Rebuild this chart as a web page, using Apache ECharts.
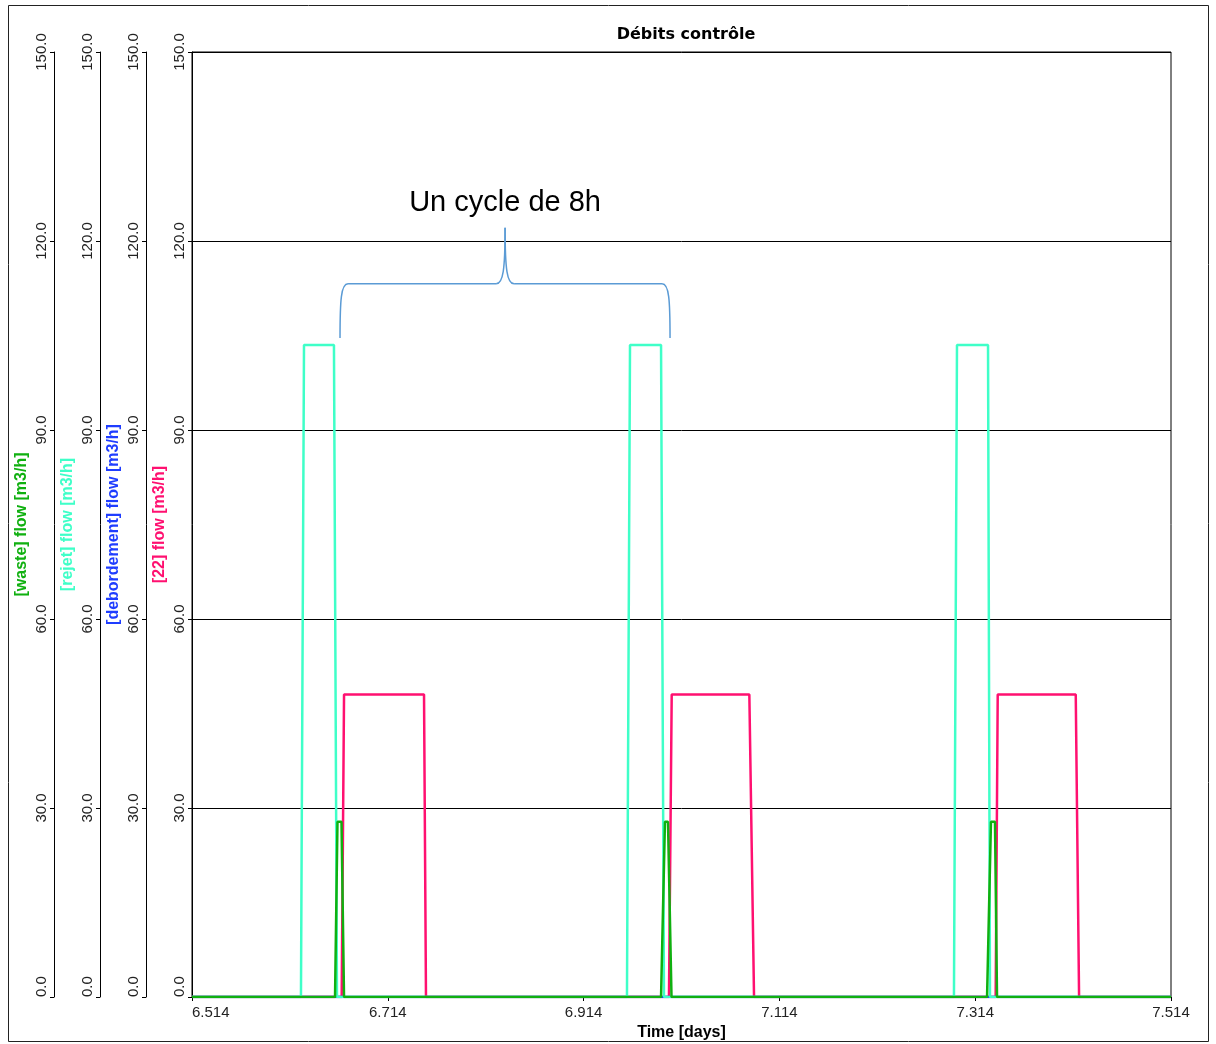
<!DOCTYPE html>
<html lang="fr">
<head>
  <meta charset="UTF-8">
  <title>Débits contrôle</title>
  <style>
    * { padding: 0px; margin: 0px; }
    html, body { width: 100%; height: 100%; background: #fff; }
    #chart { width: 1216px; height: 1044px; }
  </style>
  <script src="https://cdn.jsdelivr.net/npm/echarts@6/dist/echarts.min.js"></script>
</head>
<body>
  <div id="chart"></div>
  <script>
    // x ticks (days)
    var xTicks = [6.514, 6.714, 6.914, 7.114, 7.314, 7.514];

    // [waste] flow
    var wasteTime = [6.514, 6.6601, 6.6626, 6.6667, 6.6693, 6.9931, 6.9971, 7.0002, 7.0038, 7.3261, 7.3301, 7.3342, 7.3363, 7.514];
    var wasteFlow = [0, 0, 27.8, 27.8, 0, 0, 27.8, 27.8, 0, 0, 27.8, 27.8, 0, 0];

    // [rejet] flow
    var rejetTime = [6.514, 6.6253, 6.6284, 6.6590, 6.6621, 6.9583, 6.9614, 6.9931, 6.9961, 7.2923, 7.2954, 7.3271, 7.3291, 7.514];
    var rejetFlow = [0, 0, 103.5, 103.5, 0, 0, 103.5, 103.5, 0, 0, 103.5, 103.5, 0, 0];

    // [debordement] flow
    var debordTime = [6.514, 7.514];
    var debordFlow = [0, 0];

    // [22] flow
    var flow22Time = [6.514, 6.6669, 6.6693, 6.7510, 6.7530, 7.0012, 7.0040, 7.0833, 7.0881, 7.3349, 7.3370, 7.4167, 7.4201, 7.514];
    var flow22 = [0, 0, 48, 48, 0, 0, 48, 48, 0, 0, 48, 48, 0, 0];

    // annotation (data coords)
    var braceX = [6.6652, 6.8338, 7.0023];
    var braceY = [104.6, 113.2, 122.1];
    var noteText = 'Un cycle de 8h';
    var noteY = 126.1;

    function pairs(xs, ys) {
      return xs.map(function (x, i) { return [x, ys[i]]; });
    }

    var labelFont = 'Liberation Sans, Arial, sans-serif';

    function makeYAxis(name, color, offset, main) {
      return {
        type: 'value',
        position: 'left',
        offset: offset,
        min: 0,
        max: 150,
        interval: 30,
        name: name,
        nameLocation: 'middle',
        nameRotate: 90,
        nameGap: 24,
        nameMoveOverlap: false,
        nameTextStyle: { color: color, fontWeight: 'bold', fontSize: 16, fontFamily: labelFont },
        axisLine: { show: true, lineStyle: { color: '#000', width: 1 } },
        axisTick: { show: true, length: 4, lineStyle: { color: '#000' } },
        axisLabel: {
          rotate: 90, margin: 5, color: '#222', fontSize: 15, fontFamily: labelFont,
          alignMinLabel: 'left',
          formatter: function (v) { return v.toFixed(1); }
        },
        splitLine: { show: main, lineStyle: { color: '#000', width: 1 } }
      };
    }

    function makeSeries(name, color, axis, data) {
      return {
        name: name, type: 'line', yAxisIndex: axis, showSymbol: false,
        lineStyle: { color: color, width: 2.5 }, itemStyle: { color: color },
        data: data
      };
    }

    var chart = echarts.init(document.getElementById('chart'));
    var option = {
      animation: false,
      backgroundColor: '#fff',
      title: {
        text: 'Débits contrôle',
        left: 681, top: 22, textAlign: 'center',
        textStyle: { fontFamily: 'DejaVu Sans, sans-serif', fontWeight: 'bold', fontSize: 16, color: '#000' }
      },
      grid: {
        left: 192, right: 45, top: 52, bottom: 47,
        outerBoundsMode: 'none', containLabel: false,
        show: true, borderColor: '#000', borderWidth: 1
      },
      xAxis: {
        type: 'value', min: 6.514, max: 7.514,
        name: 'Time [days]', nameLocation: 'middle', nameGap: 28, nameMoveOverlap: false,
        nameTextStyle: { color: '#000', fontWeight: 'bold', fontSize: 16, fontFamily: labelFont },
        axisLine: { lineStyle: { color: '#000' } },
        axisTick: { show: true, length: 4, customValues: xTicks, lineStyle: { color: '#000' } },
        axisLabel: {
          customValues: xTicks, margin: 8, color: '#222', fontSize: 15, fontFamily: labelFont,
          alignMinLabel: 'left',
          formatter: function (v) { return v.toFixed(3); }
        },
        splitLine: { show: false }
      },
      yAxis: [
        makeYAxis('[22] flow [m3/h]', '#ff1070', 0, true),
        makeYAxis('[debordement] flow [m3/h]', '#1f3dff', 46, false),
        makeYAxis('[rejet] flow [m3/h]', '#3fffc8', 92, false),
        makeYAxis('[waste] flow [m3/h]', '#10b010', 138, false)
      ],
      series: [
        makeSeries('[22] flow', '#ff1070', 0, pairs(flow22Time, flow22)),
        makeSeries('[debordement] flow', '#1f3dff', 1, pairs(debordTime, debordFlow)),
        makeSeries('[rejet] flow', '#3fffc8', 2, pairs(rejetTime, rejetFlow)),
        makeSeries('[waste] flow', '#10b010', 3, pairs(wasteTime, wasteFlow))
      ]
    };
    chart.setOption(option);

    // brace + note placed from data coordinates
    function px(x, y) { return chart.convertToPixel({ xAxisIndex: 0, yAxisIndex: 0 }, [x, y]); }
    var L = px(braceX[0], braceY[0]), Lh = px(braceX[0], braceY[1]);
    var M = px(braceX[1], braceY[1]), T = px(braceX[1], braceY[2]);
    var R = px(braceX[2], braceY[0]);
    var N = px(braceX[1], noteY);
    var braceStyle = { stroke: '#5b9bd5', lineWidth: 1.5, fill: null };
    var hy = Lh[1];
    chart.setOption({
      graphic: [
        { type: 'rect', silent: true, shape: { x: 8.5, y: 5.5, width: 1200, height: 1036 },
          style: { fill: null, stroke: '#222', lineWidth: 1 } },
        { type: 'bezierCurve', silent: true, style: braceStyle,
          shape: { x1: L[0], y1: L[1], cpx1: L[0], cpy1: hy + 16, cpx2: L[0] + 1, cpy2: hy, x2: L[0] + 8, y2: hy } },
        { type: 'line', silent: true, style: braceStyle,
          shape: { x1: L[0] + 8, y1: hy, x2: M[0] - 9, y2: hy } },
        { type: 'bezierCurve', silent: true, style: braceStyle,
          shape: { x1: M[0] - 9, y1: hy, cpx1: M[0] - 2, cpy1: hy, cpx2: M[0], cpy2: hy - 14, x2: T[0], y2: T[1] } },
        { type: 'bezierCurve', silent: true, style: braceStyle,
          shape: { x1: T[0], y1: T[1], cpx1: M[0], cpy1: hy - 14, cpx2: M[0] + 2, cpy2: hy, x2: M[0] + 9, y2: hy } },
        { type: 'line', silent: true, style: braceStyle,
          shape: { x1: M[0] + 9, y1: hy, x2: R[0] - 8, y2: hy } },
        { type: 'bezierCurve', silent: true, style: braceStyle,
          shape: { x1: R[0] - 8, y1: hy, cpx1: R[0] - 1, cpy1: hy, cpx2: R[0], cpy2: hy + 16, x2: R[0], y2: R[1] } },
        { type: 'text', silent: true, x: N[0], y: N[1],
          style: { text: noteText, fill: '#000', font: '29px Liberation Sans, Arial, sans-serif', textAlign: 'center', textVerticalAlign: 'middle' } }
      ]
    });
  </script>
</body>
</html>
